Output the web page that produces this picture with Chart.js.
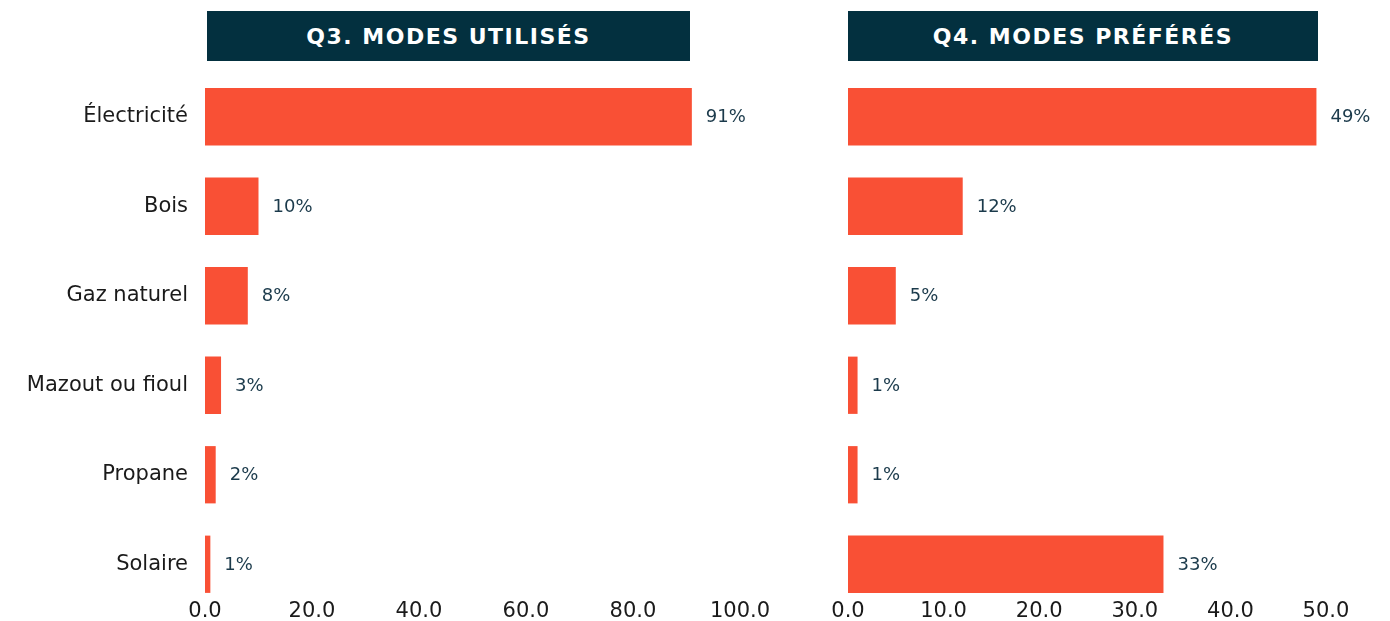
<!DOCTYPE html>
<html>
<head>
<meta charset="utf-8">
<script src="https://cdn.jsdelivr.net/npm/chart.js@4/dist/chart.umd.min.js"></script>
<style>
  body { margin: 0; background: #fff; width: 1390px; height: 621px; position: relative; overflow: hidden; font-family: "DejaVu Sans", sans-serif; }
  .title { position: absolute; top: 11px; height: 50px; background: #03303f; color: #fff; font-weight: bold; font-size: 22px; letter-spacing: 1.5px; display: flex; align-items: center; justify-content: center; z-index: 2; }
  #titleLeft { left: 207px; width: 483px; }
  #titleRight { left: 848px; width: 470px; }
  #wrapLeft { position: absolute; left: 0; top: 0; }
  #wrapRight { position: absolute; left: 780px; top: 0; }
</style>
</head>
<body>
<div class="title" id="titleLeft">Q3. MODES UTILISÉS</div>
<div class="title" id="titleRight">Q4. MODES PRÉFÉRÉS</div>
<div id="wrapLeft"><canvas id="chartUsed" width="780" height="621"></canvas></div>
<div id="wrapRight"><canvas id="chartPreferred" width="610" height="621"></canvas></div>
<script>
const categories = ["Électricité", "Bois", "Gaz naturel", "Mazout ou fioul", "Propane", "Solaire"];
const usedValues = [91, 10, 8, 3, 2, 1];
const preferredValues = [49, 12, 5, 1, 1, 33];
const usedAxisMax = 100, usedAxisStep = 20;
const preferredAxisMax = 50, preferredAxisStep = 10;

const barColor = "#f95035";
const labelColor = "#1b3a4b";
const textColor = "#1a1a1a";

// draws "91%" style labels just past the end of each bar
const valueLabels = {
  id: "valueLabels",
  afterDatasetsDraw(chart) {
    const ctx = chart.ctx;
    const meta = chart.getDatasetMeta(0);
    const values = chart.data.datasets[0].data;
    ctx.save();
    ctx.font = '18px "DejaVu Sans"';
    ctx.fillStyle = labelColor;
    ctx.textBaseline = "middle";
    meta.data.forEach((bar, i) => {
      ctx.fillText(values[i] + "%", bar.x + 14, bar.y + 1);
    });
    ctx.restore();
  }
};

function createChart(canvas, values, axisMax, axisStep, showCategories, padding) {
  return new Chart(canvas, {
    type: "bar",
    data: {
      labels: categories,
      datasets: [{
        data: values,
        backgroundColor: barColor,
        borderWidth: 0,
        categoryPercentage: 1,
        barPercentage: 0.64
      }]
    },
    options: {
      indexAxis: "y",
      responsive: false,
      animation: false,
      devicePixelRatio: 1,
      layout: { padding: padding },
      plugins: { legend: { display: false }, tooltip: { enabled: false } },
      scales: {
        x: {
          min: 0,
          max: axisMax,
          grid: { display: false, drawTicks: false },
          border: { display: false },
          afterFit: scale => { scale.height = 12; },
          ticks: {
            stepSize: axisStep,
            mirror: true,
            padding: -15,
            color: textColor,
            font: { family: "DejaVu Sans", size: 21 },
            callback: v => Number(v).toFixed(1)
          }
        },
        y: {
          display: showCategories,
          grid: { display: false, drawTicks: false },
          border: { display: false },
          afterFit: scale => {
            if (showCategories) scale.width = 205;
            scale.paddingTop = 0;
            scale.paddingBottom = 0;
          },
          ticks: {
            padding: 17,
            color: textColor,
            font: { family: "DejaVu Sans", size: 21 }
          }
        }
      }
    },
    plugins: [valueLabels]
  });
}

const chartUsed = createChart(document.getElementById("chartUsed"), usedValues, usedAxisMax, usedAxisStep, true,
  { top: 72, right: 40, bottom: 0, left: 0 });
const chartPreferred = createChart(document.getElementById("chartPreferred"), preferredValues, preferredAxisMax, preferredAxisStep, false,
  { top: 72, right: 64, bottom: 0, left: 68 });
</script>
</body>
</html>
